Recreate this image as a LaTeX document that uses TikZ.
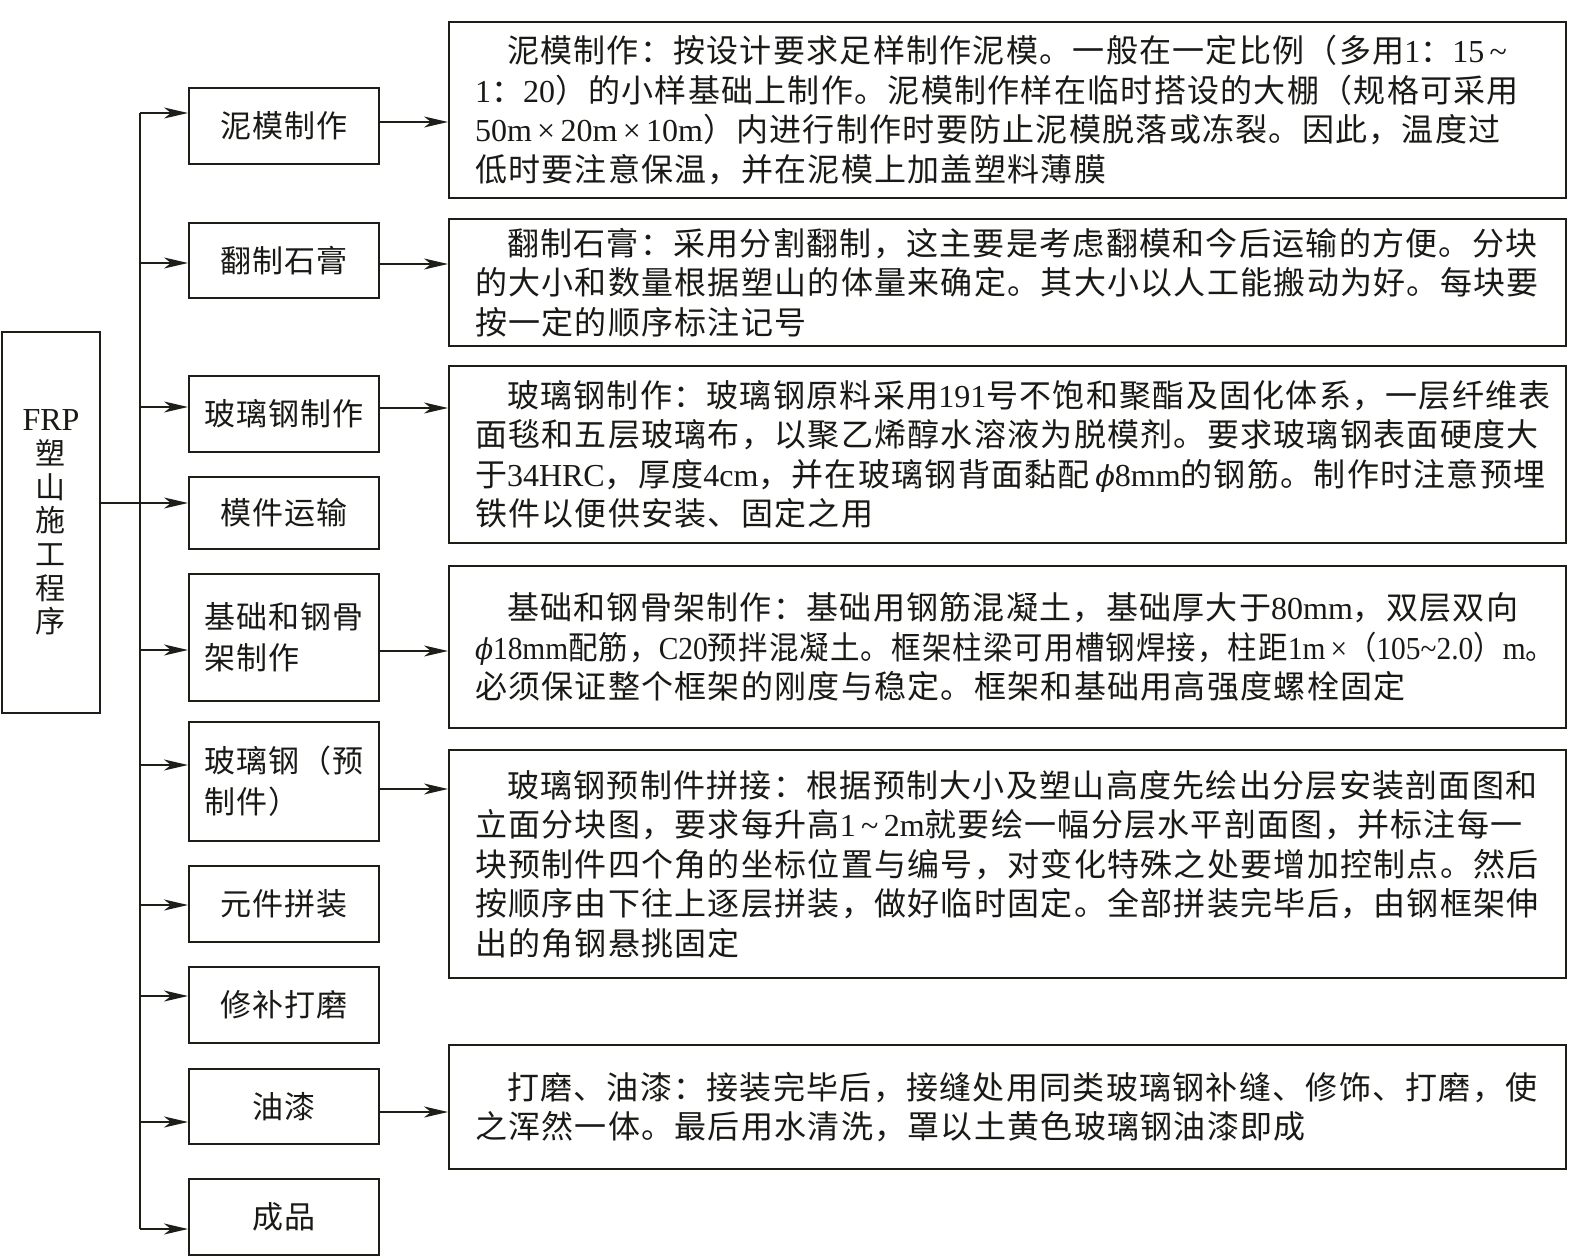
\documentclass[tikz,border=0pt]{standalone}
\usepackage{graphicx}
\usepackage{fontspec}
\setmainfont{Noto Sans CJK SC}[LetterSpace=4]
\newfontfamily\latinf{Liberation Serif}
\newfontfamily\phif[Scale=0.9]{DejaVu Serif}
\newcommand\ltn[1]{{\latinf #1}}
\newcommand\phisym{{\phif\itshape ϕ}}
\newcommand\tline[1]{\mbox{#1}}
\newcommand\fitline[2]{\resizebox{#1}{\height}{\mbox{#2}}}
\usetikzlibrary{arrows.meta}
\definecolor{inkc}{RGB}{30,30,24}
\definecolor{txtc}{RGB}{25,25,22}
\begin{document}
\begin{tikzpicture}[x=1pt,y=-1pt,
  ink/.style={draw=inkc, line width=2pt},
  mbox/.style={ink, minimum width=190pt, inner sep=0pt, align=left, text=txtc,
    font=\fontsize{31}{41}\selectfont},
  tbox/.style={ink, minimum width=1117pt, text width=1065pt, inner xsep=26pt,
    inner ysep=0pt, align=left, text=txtc, font=\fontsize{32}{39.5}\selectfont},
  arr/.style={ink, -{Stealth[length=24pt,width=11pt,inset=7pt]}}]
\path[use as bounding box, fill=white] (0,0) rectangle (1577,1257);

% left box
\node[ink, minimum width=98pt, minimum height=381pt, inner sep=0pt, align=center,
  text=txtc, font=\fontsize{30}{33.7}\selectfont] (frp) at (51,522.5)
  {{\fontsize{32}{33.7}\selectfont\latinf FRP}\\塑\\山\\施\\工\\程\\序};

% middle boxes
\node[mbox, minimum height=76pt] (b1) at (284,126) {泥模制作};
\node[mbox, minimum height=75pt] (b2) at (284,260.5) {翻制石膏};
\node[mbox, minimum height=76pt] (b3) at (284,414) {玻璃钢制作};
\node[mbox, minimum height=72pt] (b4) at (284,513) {模件运输};
\node[mbox, minimum height=127pt] (b5) at (284,637.5) {基础和钢骨\\架制作};
\node[mbox, minimum height=119pt] (b6) at (284,781.5) {玻璃钢（预\\制件）};
\node[mbox, minimum height=76pt] (b7) at (284,904) {元件拼装};
\node[mbox, minimum height=76pt] (b8) at (284,1005) {修补打磨};
\node[mbox, minimum height=75pt] (b9) at (284,1106.5) {油漆};
\node[mbox, minimum height=76pt] (b10) at (284,1217) {成品};

% text boxes
\node[tbox, minimum height=176pt] (t1) at (1007.5,110) {%
\tline{\hspace*{1em}泥模制作：按设计要求足样制作泥模。一般在一定比例（多用\ltn{1}：\ltn{15\,\textasciitilde}}\\
\tline{\ltn{1}：\ltn{20}）的小样基础上制作。泥模制作样在临时搭设的大棚（规格可采用}\\
\tline{\ltn{50m\,×\,20m\,×\,10m}）内进行制作时要防止泥模脱落或冻裂。因此，温度过}\\
\tline{低时要注意保温，并在泥模上加盖塑料薄膜}};

\node[tbox, minimum height=127pt] (t2) at (1007.5,282.5) {%
\tline{\hspace*{1em}翻制石膏：采用分割翻制，这主要是考虑翻模和今后运输的方便。分块}\\
\tline{的大小和数量根据塑山的体量来确定。其大小以人工能搬动为好。每块要}\\
\tline{按一定的顺序标注记号}};

\node[tbox, minimum height=177pt] (t3) at (1007.5,454.5) {%
\tline{\hspace*{1em}玻璃钢制作：玻璃钢原料采用\ltn{191}号不饱和聚酯及固化体系，一层纤维表}\\
\tline{面毯和五层玻璃布，以聚乙烯醇水溶液为脱模剂。要求玻璃钢表面硬度大}\\
\tline{于\ltn{34HRC}，厚度\ltn{4cm}，并在玻璃钢背面黏配\,\phisym\ltn{8mm}的钢筋。制作时注意预埋}\\
\tline{铁件以便供安装、固定之用}};

\node[tbox, minimum height=162pt] (t4) at (1007.5,647) {%
\tline{\hspace*{1em}基础和钢骨架制作：基础用钢筋混凝土，基础厚大于\ltn{80mm}，双层双向}\\
\fitline{1080pt}{\phisym\ltn{18mm}配筋，\ltn{C20}预拌混凝土。框架柱梁可用槽钢焊接，柱距\ltn{1m\,×}（\ltn{105\textasciitilde2.0}）\ltn{m}。}\\
\tline{必须保证整个框架的刚度与稳定。框架和基础用高强度螺栓固定}};

\node[tbox, minimum height=228pt] (t5) at (1007.5,864) {%
\tline{\hspace*{1em}玻璃钢预制件拼接：根据预制大小及塑山高度先绘出分层安装剖面图和}\\
\tline{立面分块图，要求每升高\ltn{1\,\textasciitilde\,2m}就要绘一幅分层水平剖面图，并标注每一}\\
\tline{块预制件四个角的坐标位置与编号，对变化特殊之处要增加控制点。然后}\\
\tline{按顺序由下往上逐层拼装，做好临时固定。全部拼装完毕后，由钢框架伸}\\
\tline{出的角钢悬挑固定}};

\node[tbox, minimum height=124pt] (t6) at (1007.5,1107) {%
\tline{\hspace*{1em}打磨、油漆：接装完毕后，接缝处用同类玻璃钢补缝、修饰、打磨，使}\\
\tline{之浑然一体。最后用水清洗，罩以土黄色玻璃钢油漆即成}};

% trunk
\coordinate (ttop) at (140,113);
\coordinate (tbot) at (140,1229);
\draw[ink] (ttop) -- (tbot);

% FRP to trunk and to b4
\draw[arr] (frp.east |- 0,503) -- (b4.west |- 0,503);

% left arrows
\foreach \n/\y in {b1/113,b2/263,b3/407,b5/650,b6/765,b7/905,b8/996,b9/1122,b10/1229}
  \draw[arr] (ttop |- 0,\y) -- (\n.west |- 0,\y);

% right arrows
\draw[arr] (b1.east |- 0,122) -- (t1.west |- 0,122);
\draw[arr] (b2.east |- 0,264) -- (t2.west |- 0,264);
\draw[arr] (b3.east |- 0,408) -- (t3.west |- 0,408);
\draw[arr] (b5.east |- 0,651) -- (t4.west |- 0,651);
\draw[arr] (b6.east |- 0,789) -- (t5.west |- 0,789);
\draw[arr] (b9.east |- 0,1112) -- (t6.west |- 0,1112);
\end{tikzpicture}
\end{document}
